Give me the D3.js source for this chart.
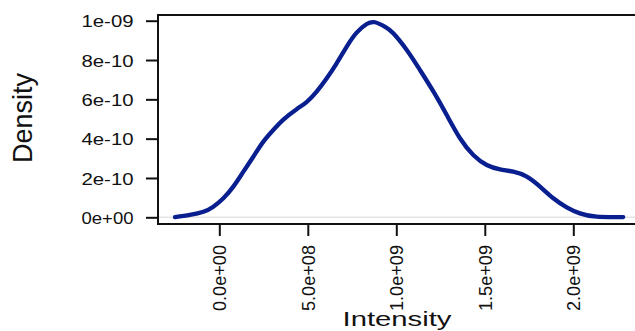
<!DOCTYPE html>
<html>
<head>
<meta charset="utf-8">
<script src="https://cdn.jsdelivr.net/npm/d3@7"></script>
<style>
  body { margin: 0; background: #fff; }
  text { font-family: "Liberation Sans", Arial, sans-serif; fill: #111; }
</style>
</head>
<body>
<svg id="chart"></svg>
<script>
const W = 635, H = 331;

// density curve
const intensity = [-2.5e8, -1.66e8, -0.9e8, -0.34e8, 0.23e8, 0.79e8, 1.36e8, 1.92e8, 2.49e8, 3.05e8,
  3.62e8, 4.37e8, 4.93e8, 5.5e8, 6.07e8, 6.63e8, 7.2e8, 7.76e8, 8.33e8, 8.8e8, 9.37e8, 9.83e8,
  10.59e8, 11.34e8, 12.1e8, 12.85e8, 13.6e8, 14.35e8, 15.11e8, 15.86e8, 16.61e8, 17.37e8,
  18.12e8, 18.87e8, 19.63e8, 20.38e8, 21.32e8, 22.82e8];
const density = [0.01e-10, 0.12e-10, 0.28e-10, 0.54e-10, 0.97e-10, 1.56e-10, 2.32e-10, 3.08e-10, 3.85e-10, 4.44e-10,
  4.97e-10, 5.5e-10, 5.86e-10, 6.39e-10, 7.07e-10, 7.83e-10, 8.68e-10, 9.39e-10, 9.83e-10, 9.92e-10, 9.69e-10, 9.36e-10,
  8.51e-10, 7.49e-10, 6.39e-10, 5.2e-10, 4.02e-10, 3.17e-10, 2.66e-10, 2.44e-10, 2.32e-10, 2.07e-10,
  1.56e-10, 0.97e-10, 0.51e-10, 0.2e-10, 0.03e-10, 0.01e-10];

const xTicks = [0, 5e8, 1e9, 1.5e9, 2e9];
const xTickLabels = ["0.0e+00", "5.0e+08", "1.0e+09", "1.5e+09", "2.0e+09"];
const yTicks = [0, 2e-10, 4e-10, 6e-10, 8e-10, 1e-9];
const yTickLabels = ["0e+00", "2e-10", "4e-10", "6e-10", "8e-10", "1e-09"];

const svg = d3.select("#chart").attr("width", W).attr("height", H);
svg.append("rect").attr("width", W).attr("height", H).attr("fill", "#fff");

const x = d3.scaleLinear().domain([0, 2e9]).range([219.3, 573.3]);
const y = d3.scaleLinear().domain([0, 1e-9]).range([217.3, 20.7]);

// light zero line
svg.append("line")
  .attr("x1", 159).attr("x2", W)
  .attr("y1", y(0)).attr("y2", y(0))
  .attr("stroke", "#e4e4e4").attr("stroke-width", 1.5);

// curve
const pts = intensity.map((v, i) => [v, density[i]]);
svg.append("path")
  .datum(pts)
  .attr("fill", "none")
  .attr("stroke", "#0a1f8f")
  .attr("stroke-width", 4.3)
  .attr("stroke-linecap", "round")
  .attr("stroke-linejoin", "round")
  .attr("d", d3.line().x(d => x(d[0])).y(d => y(d[1])).curve(d3.curveNatural));

// plot box (right side runs off the picture)
svg.append("rect")
  .attr("x", 158).attr("y", 15)
  .attr("width", 520).attr("height", 209)
  .attr("fill", "none").attr("stroke", "#111").attr("stroke-width", 2);

// y axis
const gy = svg.append("g")
  .attr("transform", "translate(158,0)")
  .call(d3.axisLeft(y).tickValues(yTicks).tickSize(12).tickPadding(12.5)
    .tickFormat((d, i) => yTickLabels[i]));
gy.select(".domain").remove();
gy.selectAll(".tick line").attr("stroke", "#111").attr("stroke-width", 2);
gy.selectAll(".tick text")
  .attr("font-size", 16)
  .attr("dy", "0.38em")
  .attr("textLength", 52)
  .attr("lengthAdjust", "spacingAndGlyphs");

// x axis
const gx = svg.append("g")
  .attr("transform", "translate(0,224)")
  .call(d3.axisBottom(x).tickValues(xTicks).tickSize(12)
    .tickFormat((d, i) => xTickLabels[i]));
gx.select(".domain").remove();
gx.selectAll(".tick line").attr("stroke", "#111").attr("stroke-width", 2);
gx.selectAll(".tick text")
  .attr("font-size", 19)
  .attr("transform", "rotate(-90)")
  .attr("text-anchor", "end")
  .attr("x", -21)
  .attr("y", 0)
  .attr("dy", "0.35em")
  .attr("textLength", 66)
  .attr("lengthAdjust", "spacingAndGlyphs");

// axis titles
svg.append("text")
  .attr("transform", "translate(22,118) rotate(-90)")
  .attr("text-anchor", "middle")
  .attr("dy", "0.35em")
  .attr("font-size", 28)
  .attr("textLength", 90)
  .attr("lengthAdjust", "spacingAndGlyphs")
  .text("Density");

svg.append("text")
  .attr("x", 397).attr("y", 326)
  .attr("text-anchor", "middle")
  .attr("font-size", 21)
  .attr("textLength", 109)
  .attr("lengthAdjust", "spacingAndGlyphs")
  .text("Intensity");
</script>
</body>
</html>
